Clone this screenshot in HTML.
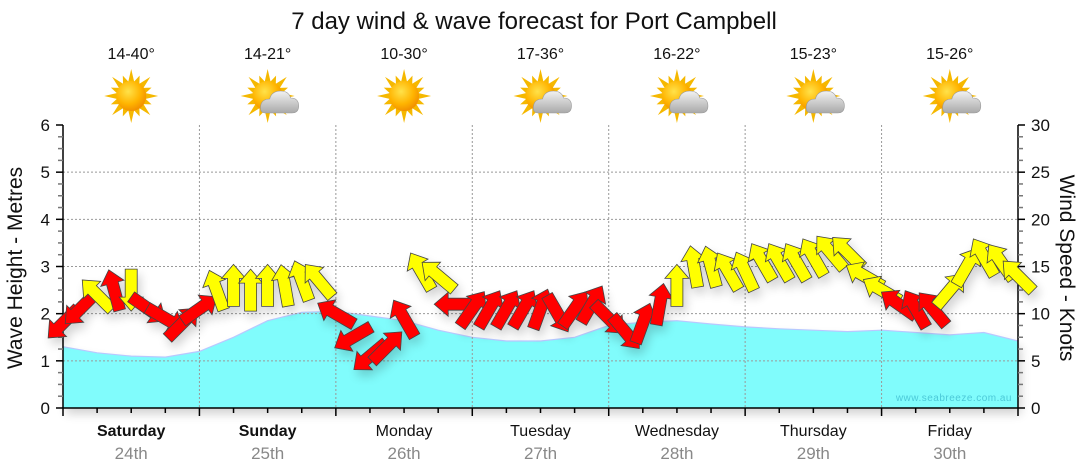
<!DOCTYPE html>
<html><head><meta charset="utf-8">
<style>
html,body{margin:0;padding:0;background:#fff;}
svg{display:block;font-family:"Liberation Sans",Verdana,sans-serif;}
</style></head>
<body>
<svg id="chart" width="1080" height="475" viewBox="0 0 1080 475" xmlns="http://www.w3.org/2000/svg">
<defs>
  <radialGradient id="sunG" cx="0.4" cy="0.35" r="0.7">
    <stop offset="0" stop-color="#ffe24a"/><stop offset="0.6" stop-color="#ffb400"/><stop offset="1" stop-color="#f08a00"/>
  </radialGradient>
  <linearGradient id="cloudG" x1="0" y1="0" x2="0" y2="1">
    <stop offset="0" stop-color="#f2f2f2"/><stop offset="1" stop-color="#a9a9a9"/>
  </linearGradient>
  <filter id="shadow" x="-50%" y="-50%" width="200%" height="200%">
    <feGaussianBlur in="SourceAlpha" stdDeviation="5"/>
    <feOffset dx="3" dy="6"/>
    <feComponentTransfer><feFuncA type="linear" slope="0.18"/></feComponentTransfer>
    <feMerge><feMergeNode/><feMergeNode in="SourceGraphic"/></feMerge>
  </filter>
</defs>
<text x="534" y="29" text-anchor="middle" font-size="24" fill="#111">7 day wind &amp; wave forecast for Port Campbell</text>
<g id="icons"></g>
<g id="plot"></g>
<text transform="translate(22,268) rotate(-90)" text-anchor="middle" font-size="21" fill="#111">Wave Height - Metres</text>
<text transform="translate(1060,268) rotate(90)" text-anchor="middle" font-size="21" fill="#111">Wind Speed - Knots</text>
<text x="1012" y="401" text-anchor="end" font-size="10" fill="#4cc9d8" letter-spacing="0.5">www.seabreeze.com.au</text>
</svg>
<script>
const dayNames = ["Saturday","Sunday","Monday","Tuesday","Wednesday","Thursday","Friday"];
const dayDates = ["24th","25th","26th","27th","28th","29th","30th"];
const dayBold = [true,true,false,false,false,false,false];
const tempRanges = ["14-40°","14-21°","10-30°","17-36°","16-22°","15-23°","15-26°"];
const iconTypes = ["sun","partly","sun","partly","partly","partly","partly"];
// wave heights every 6 hours (m), hour 0..168
const waveHeights = [1.3,1.17,1.1,1.08,1.2,1.5,1.85,2.03,2.05,1.95,1.85,1.65,1.5,1.42,1.42,1.5,1.75,1.82,1.85,1.78,1.72,1.68,1.65,1.62,1.65,1.6,1.55,1.6,1.42];
// wind every 3 hours
const windSpeeds = [9,10.5,12,12.5,12.5,10.5,9.5,9,10.5,12.5,13,12.5,13,13,13.5,13.5,10,7.5,5.5,6.5,9.5,14.5,14,11,10.5,10.5,10.5,10.5,10.5,10,10.5,11,9.5,8,9,11,13,15,15,14.5,14.5,15.5,15.5,15.5,16,16.5,16.5,14,12.5,11,10.5,10.5,12.5,15,16,15.5,14];
const windDirs = [225,225,315,345,180,125,120,45,55,340,0,0,0,350,340,320,300,240,230,45,330,330,310,270,35,30,30,30,20,150,35,30,135,140,20,10,0,350,345,330,335,330,330,330,330,320,315,300,300,305,330,320,40,30,330,325,315];
const windColors = ["r","r","y","r","y","r","r","r","r","y","y","y","y","y","y","y","r","r","r","r","r","y","y","r","r","r","r","r","r","r","r","r","r","r","r","r","y","y","y","y","y","y","y","y","y","y","y","y","y","r","r","r","y","y","y","y","y"];
const waveTicks = [0,1,2,3,4,5,6];
const windTicks = [0,5,10,15,20,25,30];

const NS="http://www.w3.org/2000/svg";
const X0=63,X1=1018,Y0=408,Y1=125,HOURS=168;
const xH=h=>X0+(X1-X0)*h/HOURS;
const yWave=v=>Y0-(Y0-Y1)*v/6;
const yWind=v=>Y0-(Y0-Y1)*v/30;
function mk(tag,attrs,parent){const e=document.createElementNS(NS,tag);for(const k in attrs)e.setAttribute(k,attrs[k]);parent.appendChild(e);return e;}
const plot=document.getElementById('plot');
const icons=document.getElementById('icons');

// wave area
let d="M"+X0+","+Y0;
waveHeights.forEach((v,i)=>{d+=" L"+xH(i*6).toFixed(1)+","+yWave(v).toFixed(1);});
d+=" L"+X1+","+Y0+" Z";
const wa=mk('path',{d:d,fill:'#80fcfc',stroke:'none',filter:'url(#shadow)'},plot);


let dl="";
waveHeights.forEach((v,i)=>{dl+=(i?" L":"M")+xH(i*6).toFixed(1)+","+yWave(v).toFixed(1);});
const wl=mk('path',{d:dl,fill:'none',stroke:'#b8c8ff','stroke-width':1.2},plot);



// grid
waveTicks.forEach(t=>{
  if(t>0&&t<6){const g=mk('line',{x1:X0,x2:X1,y1:yWave(t),y2:yWave(t),stroke:'#999','stroke-dasharray':'2,2','stroke-width':1},plot);
  
  }
});
for(let i=1;i<7;i++){const x=xH(i*24);const g=mk('line',{x1:x,x2:x,y1:Y1,y2:Y0,stroke:'#999','stroke-dasharray':'2,2','stroke-width':1},plot);
  
  }

// axes
mk('line',{x1:X0,x2:X0,y1:Y1,y2:Y0,stroke:'#000','stroke-width':1.5},plot);
mk('line',{x1:X1,x2:X1,y1:Y1,y2:Y0,stroke:'#000','stroke-width':1.5},plot);
mk('line',{x1:X0,x2:X1,y1:Y0,y2:Y0,stroke:'#000','stroke-width':1.5},plot);
for(let i=0;i<=24;i++){const y=Y0-(Y0-Y1)*i/24;const maj=i%4==0;
  mk('line',{x1:X0-(maj?7:5),x2:X0,y1:y,y2:y,stroke:maj?'#000':'#777','stroke-width':1.5},plot);
  mk('line',{x1:X1,x2:X1+(maj?7:5),y1:y,y2:y,stroke:maj?'#000':'#777','stroke-width':1.5},plot);}
waveTicks.forEach(t=>{const e=mk('text',{x:X0-13,y:yWave(t)+6,'text-anchor':'end','font-size':17,fill:'#111'},plot);e.textContent=t;
  
  });
windTicks.forEach(t=>{const e=mk('text',{x:X1+13,y:yWind(t)+6,'text-anchor':'start','font-size':17,fill:'#111'},plot);e.textContent=t;
  
  });
for(let h=0;h<=HOURS;h+=6){const x=xH(h);const maj=h%24==0;
  mk('line',{x1:x,x2:x,y1:Y0,y2:Y0+(maj?8:5),stroke:'#000','stroke-width':1.5},plot);}

// day labels
dayNames.forEach((n,i)=>{const cx=xH(i*24+12);
  const t=mk('text',{x:cx,y:436,'text-anchor':'middle','font-size':16,fill:'#111','font-weight':dayBold[i]?'bold':'normal'},plot);t.textContent=n;
  
  
  const t2=mk('text',{x:cx,y:459,'text-anchor':'middle','font-size':17,fill:'#888'},plot);t2.textContent=dayDates[i];
  
  
  const t3=mk('text',{x:cx,y:59,'text-anchor':'middle','font-size':16,fill:'#111'},icons);t3.textContent=tempRanges[i];
  
  
  const g=mk('g',{transform:'translate('+cx+',96)'},icons);
  
  
  for(let k=0;k<16;k++){const a=k*22.5;const L=k%2?22:27;
    mk('polygon',{points:'-3,-14 3,-14 0,-'+L,fill:'#f5b800',transform:'rotate('+a+')'},g);}
  mk('circle',{r:15,fill:'url(#sunG)'},g);
  if(iconTypes[i]=='partly'){
    const c=mk('g',{transform:'translate(12,6)'},g);
    mk('path',{d:'M-14,11 Q-20,11 -19,4 Q-18,-3 -10,-3 Q-8,-11 1,-11 Q9,-11 11,-4 Q19,-4 19,4 Q19,11 12,11 Z',fill:'url(#cloudG)',stroke:'#999','stroke-width':0.6},c);
  }
});

// wind arrows
const arrowPts="0,-21 -12,-7 -6,-7 -6,21 6,21 6,-7 12,-7";
const ag=mk('g',{filter:'url(#shadow)'},plot);
windSpeeds.forEach((s,i)=>{
  const x=xH(i*3),y=yWind(s);
  const p=mk('polygon',{points:arrowPts,fill:windColors[i]=='r'?'#ff0000':'#ffff00',stroke:'#444','stroke-width':0.8,
    transform:'translate('+x.toFixed(1)+','+y.toFixed(1)+') rotate('+windDirs[i]+')'},ag);
  
  
});
</script>
</body></html>
